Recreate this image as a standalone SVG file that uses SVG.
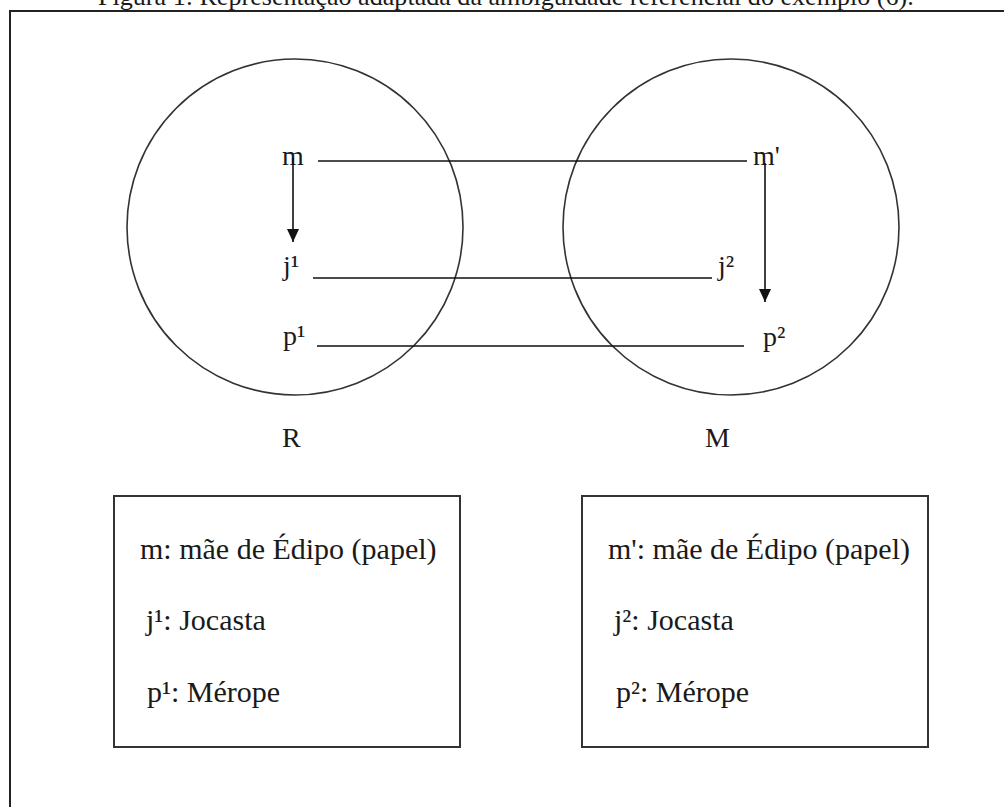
<svg xmlns="http://www.w3.org/2000/svg" width="1004" height="807" viewBox="0 0 1004 807">
<defs>
<style>
text{font-family:"Liberation Serif","Times New Roman",serif;fill:#1a1a1a}
.lbl{font-size:28px}
.box{font-size:30px}
.circ{fill:none;stroke:#333;stroke-width:1.6}
.rect{fill:#fff;stroke:#333;stroke-width:2}
.ln{stroke:#111;stroke-width:1.6;fill:none}
</style>
<marker id="ah" markerUnits="userSpaceOnUse" markerWidth="14" markerHeight="14" viewBox="0 0 14 14" refX="13" refY="7" orient="auto">
<path d="M0,1 L13,7 L0,13 Z" fill="#111"/>
</marker>
</defs>
<rect x="0" y="0" width="1004" height="807" fill="#fff"/>
<text x="98" y="5" style="font-size:26.1px">Figura 1: Representação adaptada da ambiguidade referencial do exemplo (6).</text>
<path d="M9,11 H1004 M10,11 V807" stroke="#222" stroke-width="2" fill="none"/>

<g id="circle-R">
<circle class="circ" cx="295" cy="227" r="168"/>
<text class="lbl" x="282" y="447">R</text>
</g>
<g id="circle-M">
<circle class="circ" cx="731" cy="227" r="168"/>
<text class="lbl" x="705" y="447">M</text>
</g>

<g id="m"><text class="lbl" x="282" y="165">m</text></g>
<g id="j1"><text class="lbl" x="283" y="275">j¹</text></g>
<g id="p1"><text class="lbl" x="283" y="345">p¹</text></g>
<g id="m2"><text class="lbl" x="753" y="165">m'</text></g>
<g id="j2"><text class="lbl" x="718" y="275">j²</text></g>
<g id="p2"><text class="lbl" x="763" y="346">p²</text></g>

<g id="connectors">
<line class="ln" x1="318" y1="161" x2="747" y2="161"/>
<line class="ln" x1="313" y1="278" x2="712" y2="278"/>
<line class="ln" x1="317" y1="346" x2="744" y2="346"/>
<line class="ln" x1="293" y1="158" x2="293" y2="242" marker-end="url(#ah)"/>
<line class="ln" x1="765" y1="163" x2="765" y2="302" marker-end="url(#ah)"/>
</g>

<g id="legend-R">
<rect class="rect" x="114" y="496" width="346" height="251"/>
<text class="box" x="140" y="559">m: mãe de Édipo (papel)</text>
<text class="box" x="146" y="630">j¹: Jocasta</text>
<text class="box" x="147" y="702">p¹: Mérope</text>
</g>
<g id="legend-M">
<rect class="rect" x="582" y="496" width="346" height="251"/>
<text class="box" x="608" y="559">m': mãe de Édipo (papel)</text>
<text class="box" x="614" y="630">j²: Jocasta</text>
<text class="box" x="616" y="702">p²: Mérope</text>
</g>
</svg>
